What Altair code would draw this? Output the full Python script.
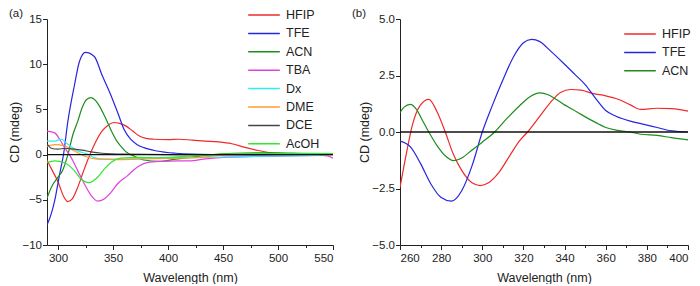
import altair as alt
import pandas as pd

# ---------------- Panel (a) data ----------------
SOLVENTS_A = ["HFIP", "TFE", "ACN", "TBA", "Dx", "DME", "DCE", "AcOH"]
COLORS_A = ["#ee2a2a", "#2626dd", "#1e8c1e", "#e040e0", "#30eeee", "#ff9a30", "#444444", "#33e633"]

HFIP_A_WL = [290, 295, 300, 305, 309, 313, 318, 323, 327, 333, 340, 345, 351, 356, 362, 368, 374, 380, 387, 400, 410, 422, 434, 446, 458, 470, 482, 494, 510, 530, 550]
HFIP_A_CD = [-0.6, -1.8, -3.0, -4.6, -5.2, -4.9, -3.6, -1.9, -0.6, 1.1, 2.6, 3.2, 3.55, 3.45, 3.15, 2.6, 2.05, 1.8, 1.7, 1.65, 1.7, 1.6, 1.5, 1.4, 1.2, 0.8, 0.45, 0.2, 0.1, 0.05, 0.0]

TFE_A_WL = [290, 294, 297, 301.5, 305, 309, 315, 319.5, 325, 333, 340, 348, 355, 360, 366, 372, 378, 390, 407, 422, 450, 480, 510, 530, 550]
TFE_A_CD = [-7.8, -6.5, -5.1, -2.15, 0.0, 3.7, 7.7, 10.3, 11.3, 10.85, 8.8, 6.6, 4.4, 2.8, 1.7, 1.1, 0.77, 0.4, 0.15, 0.05, 0.0, -0.05, -0.1, 0.0, 0.05]

ACN_A_WL = [290, 294, 300, 304, 309, 313.5, 318, 322, 326, 330, 334, 337, 343, 349, 354, 357, 363, 369, 378, 392, 407, 420, 440, 460, 480, 500, 520, 550]
ACN_A_CD = [-4.8, -3.6, -2.5, -1.8, 0.0, 2.2, 3.7, 5.2, 6.1, 6.3, 6.0, 5.5, 4.1, 2.5, 1.4, 0.95, 0.2, -0.15, -0.6, -0.75, -0.5, -0.3, 0.0, 0.15, 0.2, 0.2, 0.15, 0.1]

TBA_A_WL = [290, 297, 301.5, 306, 312, 318, 324, 330, 336, 342, 348, 354, 363, 372, 381, 393, 410, 421, 432, 450, 480, 510, 540, 545, 550]
TBA_A_CD = [2.6, 2.4, 1.7, 0.77, -0.33, -1.8, -3.25, -4.5, -5.15, -4.9, -4.2, -3.25, -2.35, -1.4, -0.88, -0.75, -0.7, -0.7, -0.5, -0.3, -0.2, -0.15, -0.1, -0.15, -0.4]

DX_A_WL = [290, 297, 303, 309, 318, 327, 333, 342, 357, 380, 400, 430, 460, 500, 530, 550]
DX_A_CD = [1.5, 1.5, 1.7, 1.15, 0.4, 0.05, -0.33, -0.5, -0.5, -0.4, -0.3, -0.3, -0.25, -0.15, -0.1, 0.0]

DME_A_WL = [290, 297, 306, 315, 324, 336, 354, 372, 390, 410, 430, 450, 470, 500, 520, 550]
DME_A_CD = [0.9, 1.1, 0.95, 0.4, -0.15, -0.5, -0.55, -0.5, -0.45, -0.4, -0.3, -0.05, 0.05, 0.1, 0.05, 0.0]

DCE_A_WL = [290, 294, 300, 306, 315, 322, 330, 340, 360, 400, 450, 500, 550]
DCE_A_CD = [1.2, 0.7, 0.6, 0.7, 0.6, 0.5, 0.3, 0.15, 0.05, 0.0, 0.0, 0.05, 0.05]

ACOH_A_WL = [290, 297, 306, 315, 321, 328, 336, 342, 348, 357, 372, 393, 408, 430, 450, 480, 510, 550]
ACOH_A_CD = [-0.9, -0.7, -0.9, -1.8, -2.7, -3.1, -2.5, -1.6, -0.9, -0.4, -0.3, -0.35, -0.25, -0.1, 0.05, 0.1, 0.1, 0.1]

# ---------------- Panel (b) data ----------------
SOLVENTS_B = ["HFIP", "TFE", "ACN"]
COLORS_B = ["#ee2a2a", "#2626dd", "#1e8c1e"]

HFIP_B_WL = [260, 263, 266, 270, 274, 278, 282, 286, 290, 295, 299, 303, 308, 313, 318, 322, 328, 334, 338, 343, 348, 354, 360, 366, 372, 377, 385, 392, 400]
HFIP_B_CD = [-2.45, -1.0, 0.3, 1.2, 1.44, 0.9, 0.0, -1.0, -1.7, -2.25, -2.37, -2.25, -1.8, -1.1, -0.4, 0.0, 0.7, 1.4, 1.75, 1.88, 1.85, 1.7, 1.6, 1.45, 1.2, 1.0, 1.05, 1.03, 0.92]

TFE_B_WL = [260, 265, 270, 275, 280, 285, 290, 295, 300, 305, 310, 315, 320, 324, 328, 333, 340, 345, 350, 355, 360, 365, 372, 378, 385, 392, 400]
TFE_B_CD = [-0.4, -0.65, -1.4, -2.3, -2.9, -3.06, -2.6, -1.5, 0.0, 1.2, 2.3, 3.3, 3.95, 4.1, 4.0, 3.6, 3.0, 2.55, 2.1, 1.5, 0.95, 0.7, 0.48, 0.35, 0.2, 0.05, 0.0]

ACN_B_WL = [260, 262, 265, 268, 271, 274, 278, 282, 286, 290, 295, 300, 306, 312, 318, 323, 328, 332, 336, 340, 344, 348, 352, 356, 360, 366, 372, 377, 385, 392, 400]
ACN_B_CD = [0.85, 1.1, 1.22, 1.0, 0.5, 0.0, -0.6, -1.05, -1.27, -1.15, -0.8, -0.45, 0.0, 0.6, 1.15, 1.55, 1.73, 1.65, 1.44, 1.2, 1.0, 0.78, 0.57, 0.38, 0.2, 0.07, 0.0, -0.1, -0.15, -0.25, -0.35]


def long_table(items):
    rows = []
    for name, wl, cd in items:
        for w, c in zip(wl, cd):
            rows.append({"solvent": name, "wl": w, "cd": c})
    return pd.DataFrame(rows)


df_a = long_table([
    ("HFIP", HFIP_A_WL, HFIP_A_CD), ("TFE", TFE_A_WL, TFE_A_CD),
    ("ACN", ACN_A_WL, ACN_A_CD), ("TBA", TBA_A_WL, TBA_A_CD),
    ("Dx", DX_A_WL, DX_A_CD), ("DME", DME_A_WL, DME_A_CD),
    ("DCE", DCE_A_WL, DCE_A_CD), ("AcOH", ACOH_A_WL, ACOH_A_CD),
])
df_b = long_table([
    ("HFIP", HFIP_B_WL, HFIP_B_CD), ("TFE", TFE_B_WL, TFE_B_CD),
    ("ACN", ACN_B_WL, ACN_B_CD),
])

FONT = "Liberation Sans"
AX = "#222222"


def axis(values, minor_test, title, label_test, fmt, is_y):
    return alt.Axis(
        values=values, title=title, grid=False, format=fmt,
        domainColor=AX, tickColor=AX, labelColor=AX, titleColor=AX,
        labelFont=FONT, titleFont=FONT, labelFontSize=11.5, titleFontSize=12.5,
        titleFontWeight="normal",
        tickSize={"condition": {"test": minor_test, "value": 2.5}, "value": 4.5},
        labelExpr=f"{label_test} ? datum.label : ''",
        labelPadding=1 if is_y else 3, titlePadding=0 if is_y else 7,
    )


def panel(df, solvents, colors, width, xdom, xvals, xminor, xlabel, xfmt,
          ydom, yvals, yminor, ylabel, yfmt, legend_x, legend_y, tag, tag_x):
    lines = alt.Chart(df).mark_line(strokeWidth=1.2, interpolate="monotone", clip=True).encode(
        x=alt.X("wl:Q", scale=alt.Scale(domain=xdom, nice=False, zero=False),
                axis=axis(xvals, xminor, "Wavelength (nm)", xlabel, xfmt, False)),
        y=alt.Y("cd:Q", scale=alt.Scale(domain=ydom, nice=False, zero=False),
                axis=axis(yvals, yminor, "CD (mdeg)", ylabel, yfmt, True)),
        color=alt.Color("solvent:N", scale=alt.Scale(domain=solvents, range=colors),
                        legend=alt.Legend(
                            title=None, orient="none", legendX=legend_x, legendY=legend_y,
                            symbolType="stroke", symbolSize=1000, symbolStrokeWidth=1.5,
                            labelFont=FONT, labelFontSize=12.5, labelColor=AX,
                            clipHeight=14, rowPadding=4.4, labelOffset=5, padding=0)),
        order=alt.Order("wl:Q"),
    )
    zero = alt.Chart(pd.DataFrame({"z": [0]})).mark_rule(color="#111111", strokeWidth=1.3).encode(
        y="z:Q")
    label = alt.Chart(pd.DataFrame({"t": [tag]})).mark_text(
        align="left", baseline="top", font=FONT, fontSize=11.5, color=AX).encode(
        x=alt.value(tag_x), y=alt.value(-11), text="t:N")
    return alt.layer(lines, zero, label).properties(width=width, height=226)


pa = panel(df_a, SOLVENTS_A, COLORS_A, 286, [290, 550], list(range(300, 551, 25)),
           "datum.value % 50 !== 0", "datum.value % 50 === 0", "d",
           [-10, 15], [v * 2.5 for v in range(-4, 7)],
           "datum.value % 5 !== 0", "datum.value % 5 === 0", "d",
           200, -11, "(a)", -38)

pb = panel(df_b, SOLVENTS_B, COLORS_B, 288, [260, 400], list(range(260, 401, 10)),
           "datum.value % 20 !== 0", "datum.value % 20 === 0", "d",
           [-5, 5], [v * 1.25 for v in range(-4, 5)],
           "datum.value % 2.5 !== 0", "datum.value % 2.5 === 0", ".1f",
           [-5, 5] and 223, 8, "(b)", -48)

chart = alt.hconcat(pa, pb, spacing=18).resolve_scale(color="independent").configure_view(
    stroke=None).properties(padding=0)

chart.save("out.html", embed_options={"renderer": "svg", "actions": False})
